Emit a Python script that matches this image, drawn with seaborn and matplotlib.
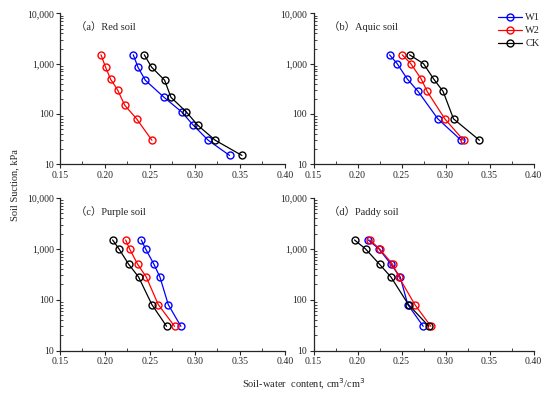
import pandas as pd
import numpy as np
import seaborn as sns
import matplotlib
matplotlib.use('Agg')
import matplotlib.pyplot as plt
from matplotlib.ticker import FixedLocator, FuncFormatter, MultipleLocator, LogLocator, NullFormatter

sns.set_style('ticks')
plt.rcParams['font.family'] = ['Liberation Serif', 'Noto Sans CJK SC']
plt.rcParams['axes.unicode_minus'] = False

# soil suction (kPa) per soil
red_suction_w1ck = [1500, 850, 470, 215, 110, 60, 30, 15]
red_suction_w2 = [1500, 850, 490, 300, 150, 80, 30]
other_suction = [1500, 1000, 500, 280, 80, 30]

# soil-water content (cm3/cm3)
red_w1 = [0.2315, 0.2367, 0.2448, 0.2656, 0.2852, 0.2981, 0.3148, 0.3385]
red_w2 = [0.1956, 0.2007, 0.2063, 0.2141, 0.2219, 0.2352, 0.2522]
red_ck = [0.2437, 0.2519, 0.2663, 0.2733, 0.2904, 0.3030, 0.3226, 0.3522]

aquic_w1 = [0.2364, 0.2451, 0.2564, 0.2689, 0.2913, 0.3178]
aquic_w2 = [0.2508, 0.2606, 0.2723, 0.2792, 0.2992, 0.3205]
aquic_ck = [0.2591, 0.2750, 0.2864, 0.2973, 0.3091, 0.3386]

purple_w1 = [0.2404, 0.2452, 0.2544, 0.2611, 0.2704, 0.2844]
purple_w2 = [0.2230, 0.2274, 0.2363, 0.2459, 0.2593, 0.2774]
purple_ck = [0.2085, 0.2156, 0.2263, 0.2374, 0.2522, 0.2685]

paddy_w1 = [0.2122, 0.2244, 0.2380, 0.2485, 0.2572, 0.2747]
paddy_w2 = [0.2141, 0.2250, 0.2398, 0.2470, 0.2652, 0.2834]
paddy_ck = [0.1966, 0.2091, 0.2250, 0.2380, 0.2580, 0.2811]

treatments = ['W1', 'W2', 'CK']
colors = {'W1': '#0000ff', 'W2': '#ff0000', 'CK': '#000000'}

panels = [
    ('（a）Red soil', {'W1': (red_w1, red_suction_w1ck), 'W2': (red_w2, red_suction_w2), 'CK': (red_ck, red_suction_w1ck)}),
    ('（b）Aquic soil', {'W1': (aquic_w1, other_suction), 'W2': (aquic_w2, other_suction), 'CK': (aquic_ck, other_suction)}),
    ('（c）Purple soil', {'W1': (purple_w1, other_suction), 'W2': (purple_w2, other_suction), 'CK': (purple_ck, other_suction)}),
    ('（d）Paddy soil', {'W1': (paddy_w1, other_suction), 'W2': (paddy_w2, other_suction), 'CK': (paddy_ck, other_suction)}),
]

rows = []
for title, series in panels:
    for t in treatments:
        x, y = series[t]
        for xi, yi in zip(x, y):
            rows.append({'panel': title, 'treatment': t, 'theta': xi, 'suction': yi})
df = pd.DataFrame(rows)

fig = plt.figure(figsize=(5.5, 3.93), dpi=100)
positions = [
    [0.109, 0.582, 0.409, 0.384],
    [0.570, 0.582, 0.400, 0.384],
    [0.109, 0.108, 0.409, 0.388],
    [0.570, 0.108, 0.400, 0.388],
]

comma = FuncFormatter(lambda v, p: '{:,.0f}'.format(v))

for (title, _), pos in zip(panels, positions):
    ax = fig.add_axes(pos)
    sub = df[df['panel'] == title]
    for t in treatments:
        d = sub[sub['treatment'] == t]
        sns.lineplot(data=d, x='theta', y='suction', ax=ax, sort=False, color=colors[t],
                     marker='o', markersize=5, markerfacecolor='none', markeredgecolor=colors[t],
                     markeredgewidth=1.0, linewidth=0.9, label=t, legend=False)
    ax.set_yscale('log')
    ax.set_xlim(0.15, 0.40)
    ax.set_ylim(10, 10000)
    ax.xaxis.set_major_locator(MultipleLocator(0.05))
    ax.xaxis.set_minor_locator(MultipleLocator(0.025))
    ax.xaxis.set_major_formatter(FuncFormatter(lambda v, p: '{:.2f}'.format(v)))
    ax.yaxis.set_major_locator(FixedLocator([10, 100, 1000, 10000]))
    ax.yaxis.set_minor_locator(LogLocator(base=10, subs=np.arange(2, 10)))
    ax.yaxis.set_major_formatter(comma)
    ax.yaxis.set_minor_formatter(NullFormatter())
    ax.tick_params(which='major', direction='out', length=3, width=0.8, labelsize=7, pad=1.5)
    ax.tick_params(which='minor', direction='in', length=2, width=0.6)
    sns.despine(ax=ax)
    for s in ['left', 'bottom']:
        ax.spines[s].set_linewidth(0.9)
    ax.set_xlabel('')
    ax.set_ylabel('')
    ax.text(0.07, 0.91, title, transform=ax.transAxes, fontsize=7.5, va='center', ha='left')
    if title.startswith('（b）'):
        ax.legend(loc='upper left', bbox_to_anchor=(0.82, 1.03), frameon=False, fontsize=7.5,
                  handlelength=2.3, handletextpad=0.3, labelspacing=0.35, borderaxespad=0)

fig.text(0.026, 0.53, 'Soil Suction, kPa', rotation=90, ha='center', va='center', fontsize=7.5)
fig.text(0.552, 0.022, 'Soil-water  content, cm$^3$/cm$^3$', ha='center', va='center', fontsize=7.5)

fig.savefig('out.png', dpi=100)
